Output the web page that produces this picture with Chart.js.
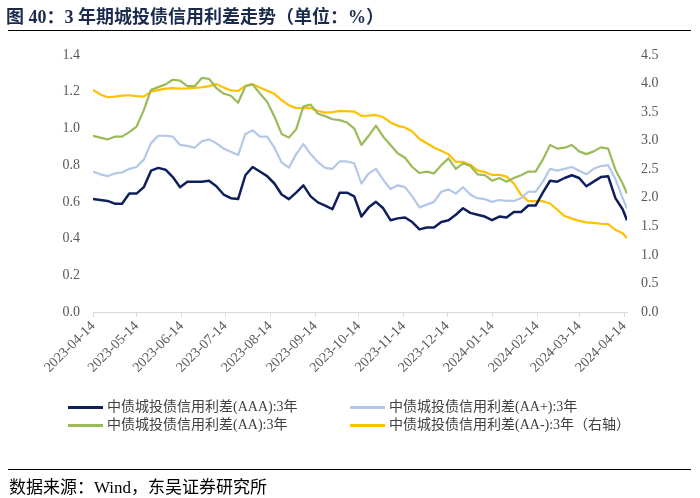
<!DOCTYPE html>
<html>
<head>
<meta charset="utf-8">
<script src="https://cdn.jsdelivr.net/npm/chart.js@4.4.1/dist/chart.umd.min.js"></script>
<style>
  body { margin: 0; background: #fff; }
  #wrap { position: relative; width: 700px; height: 498px; overflow: hidden; font-family: "Liberation Serif", "Noto Sans CJK SC", serif; }
  #title { position: absolute; left: 6px; top: 2px; font: bold 18px "Liberation Serif", "Noto Sans CJK SC"; color: #1b2b4e; white-space: nowrap; }
  .rule { position: absolute; left: 8px; width: 683px; height: 1px; background: #000; }
  .item { position: absolute; font-size: 14px; color: #404040; white-space: nowrap; line-height: 16px; }
  .item i { display: inline-block; width: 35px; height: 3px; vertical-align: middle; margin-right: 4px; }
  #source { position: absolute; left: 9px; top: 473px; font-size: 17px; color: #000; white-space: nowrap; }
  canvas { position: absolute; left: 0; top: 0; }
</style>
</head>
<body>
<div id="wrap">
  <canvas id="spreadChart" width="700" height="498"></canvas>
  <div id="title">图 40：3 年期城投债信用利差走势（单位：%）</div>
  <div class="rule" style="top:30px"></div>
  <div id="legend"></div>
  <div class="rule" style="top:469px"></div>
  <div id="source">数据来源：Wind，东吴证券研究所</div>
</div>
<script>
const dates = [
  '2023-04-14','2023-04-19','2023-04-24','2023-04-29','2023-05-04','2023-05-09','2023-05-14','2023-05-19','2023-05-24','2023-05-29',
  '2023-06-03','2023-06-08','2023-06-13','2023-06-18','2023-06-23','2023-06-28','2023-07-03','2023-07-08','2023-07-13','2023-07-18',
  '2023-07-23','2023-07-28','2023-08-02','2023-08-07','2023-08-12','2023-08-17','2023-08-22','2023-08-27','2023-09-01','2023-09-06',
  '2023-09-11','2023-09-16','2023-09-21','2023-09-26','2023-10-01','2023-10-06','2023-10-11','2023-10-16','2023-10-21','2023-10-26',
  '2023-10-31','2023-11-05','2023-11-10','2023-11-15','2023-11-20','2023-11-25','2023-11-30','2023-12-05','2023-12-10','2023-12-15',
  '2023-12-20','2023-12-25','2023-12-30','2024-01-04','2024-01-09','2024-01-14','2024-01-19','2024-01-24','2024-01-29','2024-02-03',
  '2024-02-08','2024-02-13','2024-02-18','2024-02-23','2024-02-28','2024-03-04','2024-03-09','2024-03-14','2024-03-19','2024-03-24',
  '2024-03-29','2024-04-03','2024-04-08','2024-04-13','2024-04-16'
];

const tickDates = [
  '2023-04-14','2023-05-14','2023-06-14','2023-07-14','2023-08-14','2023-09-14','2023-10-14',
  '2023-11-14','2023-12-14','2024-01-14','2024-02-14','2024-03-14','2024-04-14'
];

const seriesNames = [
  '中债城投债信用利差(AAA):3年',
  '中债城投债信用利差(AA+):3年',
  '中债城投债信用利差(AA):3年',
  '中债城投债信用利差(AA-):3年（右轴）'
];

const aaa = [
  0.615,0.61,0.605,0.59,0.59,0.645,0.645,0.68,0.77,0.785,
  0.775,0.735,0.68,0.71,0.71,0.71,0.715,0.685,0.64,0.62,
  0.615,0.745,0.79,0.765,0.74,0.70,0.64,0.615,0.65,0.69,
  0.63,0.597,0.58,0.56,0.65,0.65,0.63,0.52,0.57,0.60,
  0.565,0.50,0.51,0.515,0.49,0.45,0.46,0.46,0.49,0.50,
  0.53,0.565,0.54,0.53,0.52,0.50,0.52,0.515,0.545,0.545,
  0.58,0.58,0.65,0.715,0.71,0.73,0.745,0.73,0.685,0.71,
  0.735,0.74,0.62,0.56,0.50
];

const aaPlus = [
  0.765,0.75,0.74,0.755,0.76,0.78,0.79,0.83,0.92,0.96,
  0.96,0.955,0.91,0.905,0.895,0.93,0.94,0.92,0.89,0.873,
  0.855,0.97,0.99,0.955,0.955,0.895,0.815,0.787,0.86,0.915,
  0.86,0.817,0.785,0.78,0.82,0.82,0.81,0.70,0.755,0.78,
  0.72,0.67,0.69,0.68,0.63,0.57,0.585,0.60,0.655,0.668,
  0.645,0.68,0.64,0.62,0.615,0.60,0.61,0.605,0.605,0.62,
  0.655,0.655,0.71,0.78,0.77,0.78,0.79,0.77,0.75,0.78,
  0.795,0.80,0.725,0.62,0.565
];

const aa = [
  0.96,0.95,0.94,0.955,0.955,0.98,1.01,1.10,1.21,1.225,
  1.24,1.265,1.26,1.23,1.23,1.275,1.27,1.22,1.19,1.178,
  1.14,1.23,1.24,1.19,1.145,1.065,0.97,0.95,0.995,1.12,
  1.13,1.08,1.067,1.05,1.045,1.032,1.00,0.91,0.96,1.015,
  0.955,0.91,0.865,0.84,0.79,0.757,0.765,0.755,0.80,0.837,
  0.78,0.81,0.795,0.75,0.745,0.715,0.73,0.71,0.73,0.745,
  0.765,0.765,0.83,0.91,0.89,0.895,0.91,0.875,0.86,0.875,
  0.897,0.89,0.775,0.70,0.645
];

// 右轴
const aaMinus = [
  3.89,3.81,3.76,3.77,3.79,3.795,3.78,3.77,3.86,3.885,
  3.91,3.92,3.91,3.915,3.925,3.935,3.955,3.99,3.93,3.88,
  3.87,3.96,3.99,3.93,3.875,3.82,3.71,3.62,3.57,3.57,
  3.57,3.52,3.49,3.50,3.52,3.515,3.51,3.435,3.44,3.45,
  3.41,3.32,3.26,3.23,3.16,3.03,2.955,2.88,2.825,2.76,
  2.63,2.63,2.58,2.48,2.45,2.40,2.40,2.37,2.25,2.05,
  1.94,1.94,1.94,1.90,1.79,1.68,1.635,1.595,1.57,1.56,
  1.545,1.54,1.44,1.38,1.29
];

function dayOf(s) {
    return (Date.parse(s) - Date.parse(dates[0])) / 864e5;
}

const days = dates.map(dayOf);
const tickDays = tickDates.map(dayOf);

function toPoints(values) {
    return values.map((v, i) => ({ x: days[i], y: v }));
}

const tickFont = { family: "'Liberation Serif', 'Times New Roman', serif", size: 14 };

const ctx = document.getElementById('spreadChart');

const chart = new Chart(ctx, {
    type: 'line',
    data: {
        datasets: [{
            label: seriesNames[0],
            data: toPoints(aaa),
            borderColor: '#0f1f5c',
            borderWidth: 2.5,
            yAxisID: 'y'
        },
        {
            label: seriesNames[1],
            data: toPoints(aaPlus),
            borderColor: '#b4c7e7',
            borderWidth: 2.2,
            yAxisID: 'y'
        },
        {
            label: seriesNames[2],
            data: toPoints(aa),
            borderColor: '#9bbb59',
            borderWidth: 2.2,
            yAxisID: 'y'
        },
        {
            label: seriesNames[3],
            data: toPoints(aaMinus),
            borderColor: '#ffc000',
            borderWidth: 2.2,
            yAxisID: 'y1'
        }]
    },
    options: {
        responsive: false,
        animation: false,
        devicePixelRatio: 1,
        elements: {
            point: { radius: 0 },
            line: { tension: 0, borderJoinStyle: 'round' }
        },
        layout: {
            padding: { top: 55, bottom: 106, left: 0, right: 0 }
        },
        plugins: {
            legend: { display: false },
            tooltip: { enabled: false }
        },
        scales: {
            x: {
                type: 'linear',
                min: 0,
                max: days[days.length - 1],
                afterBuildTicks: function (scale) {
                    scale.ticks = tickDays.map(v => ({ value: v }));
                },
                afterFit: function (scale) {
                    scale.height = 80;
                },
                ticks: {
                    autoSkip: false,
                    maxRotation: 45,
                    minRotation: 45,
                    padding: 1,
                    color: '#595959',
                    font: tickFont,
                    callback: function (value, index) {
                        return tickDates[index];
                    }
                },
                grid: {
                    drawOnChartArea: false,
                    color: '#d9d9d9',
                    tickLength: 5
                },
                border: { color: '#d9d9d9' }
            },
            y: {
                position: 'left',
                min: 0,
                max: 1.4,
                afterFit: function (scale) {
                    scale.width = 93;
                },
                ticks: {
                    stepSize: 0.2,
                    padding: 5,
                    color: '#595959',
                    font: tickFont,
                    callback: v => v.toFixed(1)
                },
                grid: { display: false },
                border: { display: false }
            },
            y1: {
                position: 'right',
                min: 0,
                max: 4.5,
                afterFit: function (scale) {
                    scale.width = 73;
                },
                ticks: {
                    stepSize: 0.5,
                    padding: 6,
                    color: '#595959',
                    font: tickFont,
                    callback: v => v.toFixed(1)
                },
                grid: { display: false },
                border: { display: false }
            }
        }
    }
});

// 图例：两列
const legendPos = [[68, 399], [350, 399], [68, 417], [350, 417]];
const legend = document.getElementById('legend');
chart.data.datasets.forEach((ds, i) => {
    const item = document.createElement('div');
    item.className = 'item';
    item.style.left = legendPos[i][0] + 'px';
    item.style.top = legendPos[i][1] + 'px';
    item.innerHTML = '<i style="background:' + ds.borderColor + '"></i>' + ds.label;
    legend.appendChild(item);
});
</script>
</body>
</html>
